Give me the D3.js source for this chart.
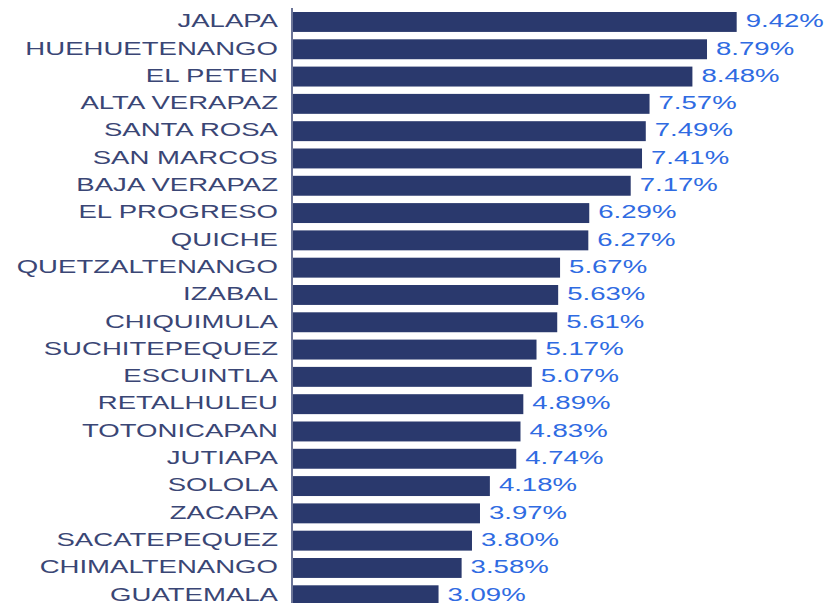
<!DOCTYPE html>
<html>
  <head>
    <meta charset="utf-8" />
    <style>
      body {
        margin: 0;
        background: #fff;
      }
      text {
        font-family: "Liberation Sans", Arial, sans-serif;
        font-size: 18.5px;
      }
      .label {
        fill: #3a4675;
      }
      .value {
        fill: #2f6be2;
      }
    </style>
  </head>
  <body>
    <svg width="825" height="603"></svg>
    <script src="https://d3js.org/d3.v7.min.js"></script>
    <script>
      var departamentos = [
        "JALAPA", "HUEHUETENANGO", "EL PETEN", "ALTA VERAPAZ", "SANTA ROSA",
        "SAN MARCOS", "BAJA VERAPAZ", "EL PROGRESO", "QUICHE", "QUETZALTENANGO",
        "IZABAL", "CHIQUIMULA", "SUCHITEPEQUEZ", "ESCUINTLA", "RETALHULEU",
        "TOTONICAPAN", "JUTIAPA", "SOLOLA", "ZACAPA", "SACATEPEQUEZ",
        "CHIMALTENANGO", "GUATEMALA"
      ];
      var porcentajes = [
        9.42, 8.79, 8.48, 7.57, 7.49, 7.41, 7.17, 6.29, 6.27, 5.67, 5.63,
        5.61, 5.17, 5.07, 4.89, 4.83, 4.74, 4.18, 3.97, 3.80, 3.58, 3.09
      ];

      var svg = d3.select("svg");
      var stretch = 1.49;

      var x = d3.scaleLinear().domain([0, 10]).range([293, 293 + 471]);

      var y = d3
        .scaleBand()
        .domain(departamentos)
        .range([12, 12 + 27.3 * (departamentos.length - 0.27)])
        .paddingInner(0.27)
        .paddingOuter(0);

      var rows = departamentos.map(function (d, i) {
        return { name: d, value: porcentajes[i] };
      });

      svg
        .append("g")
        .selectAll("rect")
        .data(rows)
        .enter()
        .append("rect")
        .attr("x", x(0))
        .attr("y", function (d) {
          return y(d.name);
        })
        .attr("width", function (d) {
          return x(d.value) - x(0);
        })
        .attr("height", y.bandwidth())
        .attr("fill", "#2a396d");

      // axis line on the left of the bars
      svg
        .append("line")
        .attr("x1", x(0) - 1)
        .attr("x2", x(0) - 1)
        .attr("y1", 8)
        .attr("y2", 603)
        .attr("stroke", "#3a4675")
        .attr("stroke-width", 1.5);

      svg
        .append("g")
        .selectAll("text")
        .data(rows)
        .enter()
        .append("text")
        .attr("class", "label")
        .attr("text-anchor", "end")
        .attr("dominant-baseline", "central")
        .attr("transform", function (d) {
          return (
            "translate(" + (x(0) - 15) + "," + (y(d.name) + y.bandwidth() / 2 - 1) +
            ") scale(" + stretch + ",1)"
          );
        })
        .text(function (d) {
          return d.name;
        });

      svg
        .append("g")
        .selectAll("text")
        .data(rows)
        .enter()
        .append("text")
        .attr("class", "value")
        .attr("dominant-baseline", "central")
        .attr("transform", function (d) {
          return (
            "translate(" + (x(d.value) + 9) + "," + (y(d.name) + y.bandwidth() / 2 - 1) +
            ") scale(" + stretch + ",1)"
          );
        })
        .text(function (d) {
          return d.value.toFixed(2) + "%";
        });
    </script>
  </body>
</html>
